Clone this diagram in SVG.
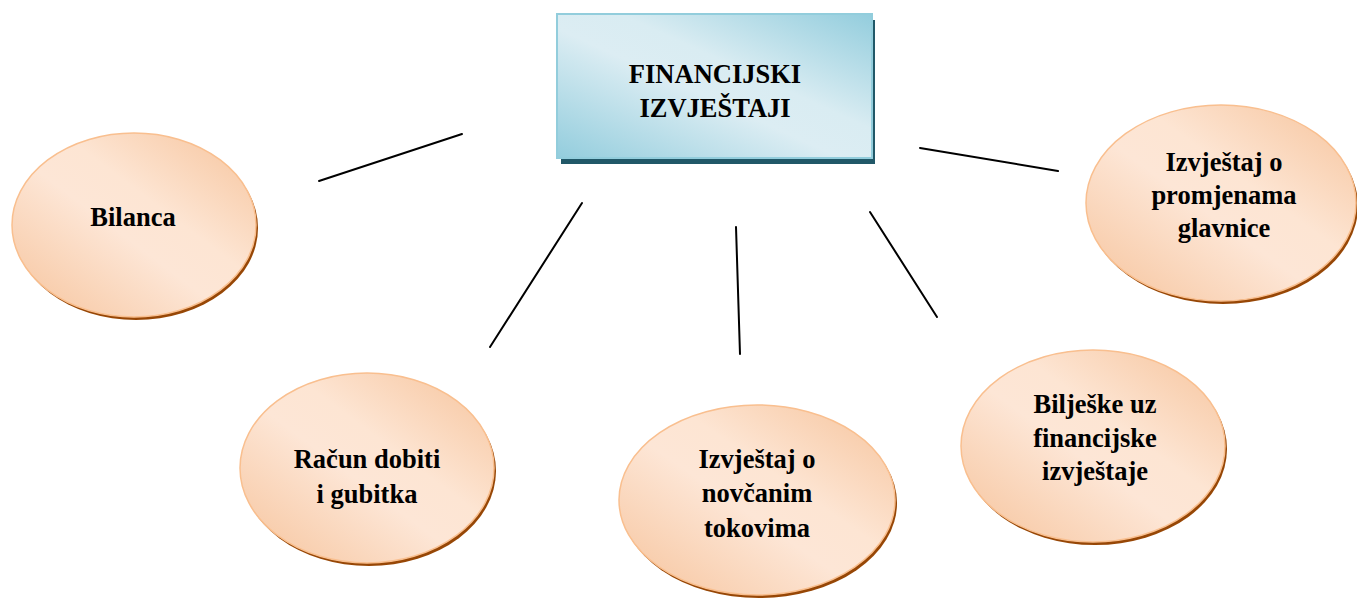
<svg xmlns="http://www.w3.org/2000/svg" width="1357" height="599" viewBox="0 0 1357 599">
<defs>
<linearGradient id="boxGrad" x1="0" y1="1" x2="1" y2="0">
<stop offset="0" stop-color="#93cddd"/>
<stop offset="0.45" stop-color="#dcedf3"/>
<stop offset="0.6" stop-color="#d9ecf2"/>
<stop offset="1" stop-color="#93cddd"/>
</linearGradient>
<linearGradient id="ellGrad" x1="0" y1="1" x2="1" y2="0">
<stop offset="0" stop-color="#f6c39b"/>
<stop offset="0.45" stop-color="#fde6d6"/>
<stop offset="0.6" stop-color="#fde5d3"/>
<stop offset="1" stop-color="#f6c39b"/>
</linearGradient>
</defs>
<style>
.lbl{font-family:"Liberation Serif","Times New Roman",serif;font-weight:bold;font-size:26.5px;fill:#000;text-anchor:middle}
.ell{fill:url(#ellGrad);stroke:#f9bf8f;stroke-width:1.5}
.shd{fill:#974706}
.conn line{stroke:#000;stroke-width:2;stroke-linecap:round}
</style>
<g class="conn" id="connectors">
<line x1="319" y1="181" x2="462" y2="134"/>
<line x1="582" y1="203" x2="490" y2="347"/>
<line x1="736" y1="227" x2="740" y2="354"/>
<line x1="870" y1="212" x2="937" y2="317"/>
<line x1="920" y1="148" x2="1058" y2="171"/>
</g>
<g id="center">
<rect x="561" y="20" width="314" height="144" fill="#215868"/>
<rect x="557" y="14" width="315" height="144" fill="url(#boxGrad)" stroke="#92cddc" stroke-width="2"/>
<text class="lbl" x="715" y="83">FINANCIJSKI</text>
<text class="lbl" x="715" y="117">IZVJEŠTAJI</text>
</g>
<g id="bilanca">
<ellipse class="shd" cx="136" cy="228" rx="122" ry="92"/>
<ellipse class="ell" cx="134" cy="225" rx="122" ry="92"/>
<text class="lbl" x="133" y="226">Bilanca</text>
</g>
<g id="racun">
<ellipse class="shd" cx="369" cy="471" rx="127" ry="95"/>
<ellipse class="ell" cx="367" cy="468" rx="127" ry="95"/>
<text class="lbl" x="367" y="468">Račun dobiti</text>
<text class="lbl" x="367" y="503">i gubitka</text>
</g>
<g id="novcani">
<ellipse class="shd" cx="759" cy="503" rx="138" ry="95"/>
<ellipse class="ell" cx="757" cy="500" rx="138" ry="95"/>
<text class="lbl" x="757" y="468">Izvještaj o</text>
<text class="lbl" x="757" y="502">novčanim</text>
<text class="lbl" x="757" y="537">tokovima</text>
</g>
<g id="biljeske">
<ellipse class="shd" cx="1095" cy="449" rx="132" ry="96"/>
<ellipse class="ell" cx="1093" cy="446" rx="132" ry="96"/>
<text class="lbl" x="1095" y="413">Bilješke uz</text>
<text class="lbl" x="1095" y="447">financijske</text>
<text class="lbl" x="1095" y="480">izvještaje</text>
</g>
<g id="promjene">
<ellipse class="shd" cx="1223" cy="206" rx="135" ry="98"/>
<ellipse class="ell" cx="1221" cy="203" rx="135" ry="98"/>
<text class="lbl" x="1224" y="171">Izvještaj o</text>
<text class="lbl" x="1224" y="204">promjenama</text>
<text class="lbl" x="1224" y="237">glavnice</text>
</g>
</svg>
